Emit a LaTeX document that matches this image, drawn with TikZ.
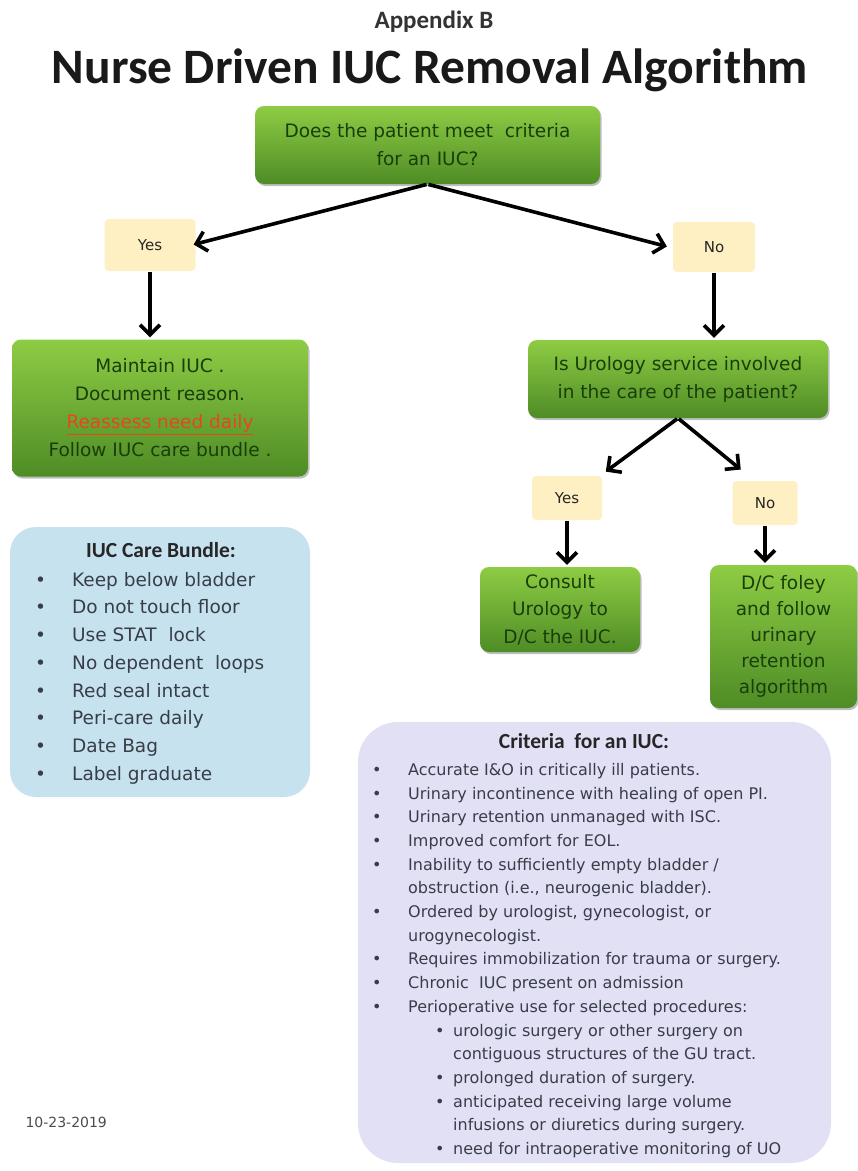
\documentclass[tikz,border=0pt]{standalone}
\usepackage{fontspec}
\setmainfont{DejaVu Sans}
\newfontfamily\headfont{Carlito}
\usetikzlibrary{arrows.meta,shadows}

\definecolor{gtop}{RGB}{142,204,68}
\definecolor{gbot}{RGB}{78,140,38}
\definecolor{gtext}{RGB}{26,62,10}
\definecolor{ylw}{RGB}{255,240,196}
\definecolor{bundlebg}{RGB}{198,226,239}
\definecolor{critbg}{RGB}{226,224,245}
\definecolor{listtext}{RGB}{55,62,72}
\definecolor{alert}{RGB}{232,70,28}

\tikzset{
  greenbox/.style={rectangle, rounded corners=9pt, top color=gtop, bottom color=gbot,
    text=gtext, align=center, inner sep=2pt,
    font=\fontsize{18.5}{28}\selectfont,
    drop shadow={shadow xshift=1.5pt, shadow yshift=-2pt, opacity=0.25, fill=black}},
  answer/.style={rectangle, rounded corners=4pt, fill=ylw, text=black!85,
    font=\fontsize{15}{18}\selectfont, inner sep=0pt},
  arr/.style={line width=3.6pt, draw=black,
    -{Straight Barb[length=10pt,width=20pt]}, shorten >=2pt, shorten <=1pt},
  listbox/.style={anchor=north west, inner sep=0pt, align=left, text=listtext},
}

\begin{document}
\begin{tikzpicture}[x=1pt,y=-1pt]
\useasboundingbox (0,0) rectangle (858,1171);
\fill[white] (0,0) rectangle (858,1171);

% headings
\node[anchor=base, font=\headfont\bfseries\fontsize{25}{30}\selectfont, text=black!80]
  (appx) at (434,28) {Appendix B};
\node[anchor=base, font=\headfont\bfseries\fontsize{49.5}{56}\selectfont, text=black!90]
  (title) at (430,83) {Nurse Driven IUC Removal Algorithm};

% flow boxes
\node[greenbox, minimum width=345pt, minimum height=78pt] (q1) at (427.5,145)
  {Does the patient meet\ \ criteria\\for an IUC?};
\node[answer, minimum width=91pt, minimum height=52pt] (yes1) at (150,245) {Yes};
\node[answer, minimum width=82pt, minimum height=50pt] (no1) at (714,247) {No};
\node[greenbox, minimum width=296pt, minimum height=137pt] (maint) at (160,408)
  {Maintain IUC .\\Document reason.\\
   \textcolor{alert}{\underline{Reassess need daily}}\\Follow IUC care bundle .};
\node[greenbox, minimum width=300pt, minimum height=78pt] (uro) at (678,379)
  {Is Urology service involved\\in the care of the patient?};
\node[answer, minimum width=70pt, minimum height=44pt] (yes2) at (567,498) {Yes};
\node[answer, minimum width=65pt, minimum height=44pt] (no2) at (765,503) {No};
\node[greenbox, minimum width=160pt, minimum height=85pt, font=\fontsize{18.5}{27.5}\selectfont]
  (consult) at (560,609.5) {Consult\\Urology to\\D/C the IUC.};
\node[greenbox, minimum width=147pt, minimum height=143pt, font=\fontsize{18.5}{26}\selectfont]
  (dc) at (783.5,636.5) {D/C foley\\and follow\\urinary\\retention\\algorithm};

% connectors
\draw[arr] (q1.south) -- ([xshift=-4pt]yes1.east);
\draw[arr] (q1.south) -- ([xshift=-4pt]no1.west);
\draw[arr] (yes1.south) -- (yes1.south |- maint.north);
\draw[arr] (no1.south) -- (no1.south |- uro.north);
\draw[arr] (uro.south) -- ([xshift=2pt,yshift=3pt]yes2.north east);
\draw[arr] (uro.south) -- ([xshift=10pt,yshift=10pt]no2.north west);
\draw[arr] (yes2.south) -- (yes2.south |- consult.north);
\draw[arr] (no2.south) -- (no2.south |- dc.north);

% care bundle panel
\fill[bundlebg, rounded corners=26pt] (10,527) rectangle (310,797);
\node[anchor=base, font=\headfont\bfseries\fontsize{21.5}{26}\selectfont, text=black!85]
  (bundlehead) at (161,557) {IUC Care Bundle:};
\node[listbox, font=\fontsize{18.5}{27.7}\selectfont] (bundle) at (35,572)
  {\makebox[37pt][l]{\textbullet}Keep below bladder\\
   \makebox[37pt][l]{\textbullet}Do not touch floor\\
   \makebox[37pt][l]{\textbullet}Use STAT\ \ lock\\
   \makebox[37pt][l]{\textbullet}No dependent\ \ loops\\
   \makebox[37pt][l]{\textbullet}Red seal intact\\
   \makebox[37pt][l]{\textbullet}Peri-care daily\\
   \makebox[37pt][l]{\textbullet}Date Bag\\
   \makebox[37pt][l]{\textbullet}Label graduate};

% criteria panel
\fill[critbg, rounded corners=40pt] (358,722) rectangle (831,1163);
\node[anchor=base, font=\headfont\bfseries\fontsize{21.5}{26}\selectfont, text=black!85]
  (crithead) at (584,748) {Criteria\ \ for an IUC:};
\node[listbox, font=\fontsize{16}{23.7}\selectfont] (crit) at (372,763)
  {\makebox[36pt][l]{\textbullet}Accurate I\&O in critically ill patients.\\
   \makebox[36pt][l]{\textbullet}Urinary incontinence with healing of open PI.\\
   \makebox[36pt][l]{\textbullet}Urinary retention unmanaged with ISC.\\
   \makebox[36pt][l]{\textbullet}Improved comfort for EOL.\\
   \makebox[36pt][l]{\textbullet}Inability to sufficiently empty bladder /\\
   \hspace*{36pt}obstruction (i.e., neurogenic bladder).\\
   \makebox[36pt][l]{\textbullet}Ordered by urologist, gynecologist, or\\
   \hspace*{36pt}urogynecologist.\\
   \makebox[36pt][l]{\textbullet}Requires immobilization for trauma or surgery.\\
   \makebox[36pt][l]{\textbullet}Chronic\ \ IUC present on admission\\
   \makebox[36pt][l]{\textbullet}Perioperative use for selected procedures:\\
   \hspace*{63pt}\makebox[18pt][l]{\textbullet}urologic surgery or other surgery on\\
   \hspace*{81pt}contiguous structures of the GU tract.\\
   \hspace*{63pt}\makebox[18pt][l]{\textbullet}prolonged duration of surgery.\\
   \hspace*{63pt}\makebox[18pt][l]{\textbullet}anticipated receiving large volume\\
   \hspace*{81pt}infusions or diuretics during surgery.\\
   \hspace*{63pt}\makebox[18pt][l]{\textbullet}need for intraoperative monitoring of UO};

% revision date
\node[anchor=base west, font=\fontsize{14}{17}\selectfont, text=black!70]
  (date) at (22,1127) {10-23-2019};
\end{tikzpicture}
\end{document}
